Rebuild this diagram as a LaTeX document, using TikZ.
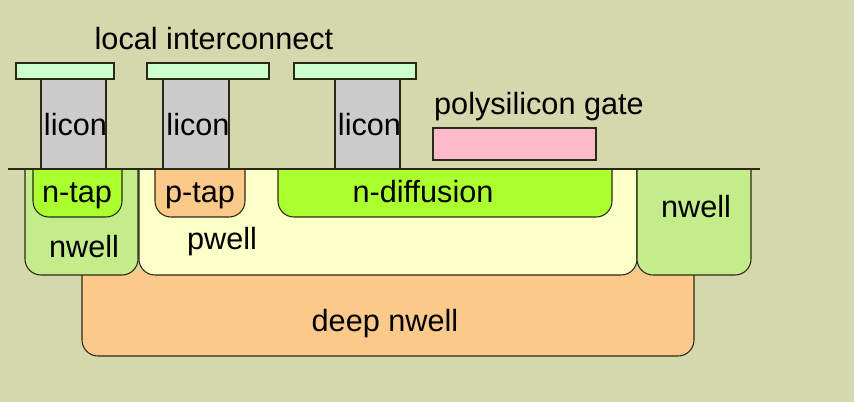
\documentclass[tikz,border=0pt]{standalone}
\usepackage{fontspec}
\setmainfont{Liberation Sans}
\definecolor{bgcol}{HTML}{D5D7AC}
\definecolor{metalcol}{HTML}{CCFFCC}
\definecolor{liconcol}{HTML}{CCCCCC}
\definecolor{nwellcol}{HTML}{C4EC8B}
\definecolor{diffcol}{HTML}{ABFF2F}
\definecolor{ptapcol}{HTML}{FBC98A}
\definecolor{pwellcol}{HTML}{FCFFC8}
\definecolor{polycol}{HTML}{FFBBCC}
\definecolor{edgecol}{HTML}{2A2A14}
\tikzset{
  layer/.style={draw=edgecol,line width=0.8pt},
  well/.style={layer,rounded corners=12pt},
  lbl/.style={inner sep=0pt,anchor=base,font=\fontsize{23}{26}\selectfont,text=black}
}
\begin{document}
\begin{tikzpicture}[x=0.75pt,y=-0.75pt]
    \fill[bgcol] (0,0) rectangle (854,402);
    % wells
    \draw[well,fill=ptapcol] (82,270) -- (82,356) -- (694,356) -- (694,270);
    \draw[well,fill=pwellcol] (139,169) -- (139,275) -- (637,275) -- (637,169);
    \draw[well,fill=nwellcol] (25,169) -- (25,275) -- (138,275) -- (138,169);
    \draw[well,fill=nwellcol] (637,169) -- (637,275) -- (751,275) -- (751,169);
    % diffusions
    \draw[well,fill=diffcol] (33,169) -- (33,217) -- (122,217) -- (122,169);
    \draw[well,fill=ptapcol] (155,169) -- (155,217) -- (245,217) -- (245,169);
    \draw[well,fill=diffcol] (278,169) -- (278,217) -- (612,217) -- (612,169);
    % contacts and metal
    \foreach \xa/\xb/\ma/\mb in {41/106/16/114,163/229/147/269,335/400/294/416}{
      \draw[layer,fill=liconcol] (\xa,79) rectangle (\xb,169);
      \draw[layer,fill=metalcol] (\ma,63) rectangle (\mb,79);
    }
    \draw[layer,fill=polycol] (433,128) rectangle (596,160);
    \draw[layer] (8,169) -- (760,169);
    % labels
    \node[lbl] (interconnect) at (214,50) {local interconnect};
    \node[lbl] (polygate) at (539,115) {polysilicon gate};
    \node[lbl] (liconA) at (75.5,136) {licon};
    \node[lbl] (liconB) at (198,136) {licon};
    \node[lbl] (liconC) at (369.5,136) {licon};
    \node[lbl] (ntap) at (77,203) {n-tap};
    \node[lbl] (ptap) at (200,203) {p-tap};
    \node[lbl] (ndiff) at (423,203) {n-diffusion};
    \node[lbl] (nwellA) at (84,258) {nwell};
    \node[lbl] (pwell) at (222,250) {pwell};
    \node[lbl] (nwellB) at (696,218) {nwell};
    \node[lbl] (deepnwell) at (385,332) {deep nwell};
  \end{tikzpicture}
\end{document}
